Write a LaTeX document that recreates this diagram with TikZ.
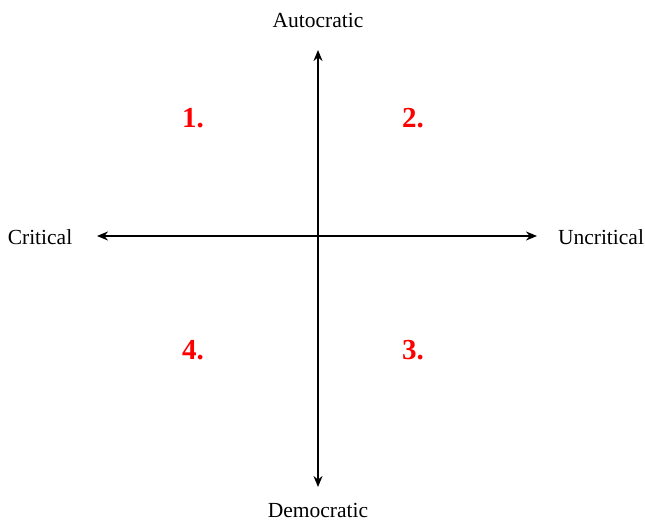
\documentclass[tikz,border=0pt]{standalone}
\usepackage{fontspec}
\setmainfont{Liberation Serif}
\usetikzlibrary{arrows.meta}
\tikzset{lab/.style={font=\fontsize{21.5}{24}\selectfont},
  num/.style={text=red,font=\fontsize{29}{32}\selectfont\bfseries}}

\begin{document}
\begin{tikzpicture}[x=1pt,y=-1pt,>={Stealth[length=11pt,width=9pt]}]
\useasboundingbox (0,0) rectangle (645,521);
\node[lab] (top) at (318,20) {Autocratic};
\node[lab] (bot) at (318,510) {Democratic};
\node[lab] (lft) at (40,237) {Critical};
\node[lab] (rgt) at (601,237) {Uncritical};
\coordinate (n) at (318,50);
\coordinate (s) at (318,487);
\coordinate (w) at (97,236);
\coordinate (e) at (537,236);
\draw[<->,line width=2pt] (n)--(s);
\draw[<->,line width=2pt] (w)--(e);
\node[num] (q1) at (193,118) {1.};
\node[num] (q2) at (413,118) {2.};
\node[num] (q3) at (413,350) {3.};
\node[num] (q4) at (193,350) {4.};
\end{tikzpicture}
\end{document}
